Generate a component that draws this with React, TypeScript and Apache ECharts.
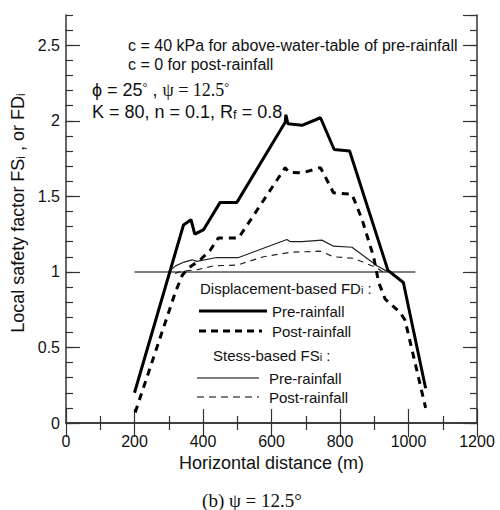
import React, { useEffect, useRef } from "react";
import * as echarts from "echarts";

// Horizontal distance (m) vs local safety factor
const preFD: [number, number][] = [
  [200, 0.2], [343, 1.31], [365, 1.345], [376, 1.25], [402, 1.28], [450, 1.46], [499, 1.46],
  [640, 1.99], [642, 2.04], [648, 1.98], [689, 1.97], [743, 2.02], [783, 1.81], [828, 1.8],
  [940, 1.01], [985, 0.93], [1050, 0.23],
];
const postFD: [number, number][] = [
  [202, 0.07], [320, 0.87], [340, 0.98], [360, 1.03], [392, 1.08], [420, 1.14], [445, 1.225],
  [504, 1.225], [640, 1.69], [650, 1.66], [690, 1.655], [743, 1.69], [781, 1.524], [835, 1.513],
  [864, 1.35], [898, 1.1], [913, 0.93], [932, 0.82], [976, 0.73], [990, 0.68], [1050, 0.1],
];
const preFS: [number, number][] = [
  [300, 1.0], [320, 1.04], [345, 1.065], [368, 1.08], [382, 1.07], [440, 1.095], [504, 1.095],
  [645, 1.214], [655, 1.2], [689, 1.2], [747, 1.21], [781, 1.17], [835, 1.163], [908, 1.04], [940, 1.0],
];
const postFS: [number, number][] = [
  [318, 0.99], [340, 1.005], [385, 1.015], [431, 1.04], [500, 1.045], [577, 1.1], [655, 1.13],
  [743, 1.137], [781, 1.1], [840, 1.09], [908, 1.026], [925, 1.0],
];
const refLine: [number, number][] = [[200, 1], [1020, 1]];

const xRange = [0, 1200];
const yRange = [0, 2.7];

const SANS = "'Liberation Sans', Arial, sans-serif";
const SERIF = "'Liberation Serif', 'Times New Roman', serif";
const AX = "#333";
const TXT = "#111";

export default function App() {
  const ref = useRef<HTMLDivElement>(null);
  useEffect(() => {
    const chart = echarts.init(ref.current!, null, { renderer: "svg" });
    const grid = { left: 66, top: 15, width: 411, height: 408 };
    const axLine = { show: true, lineStyle: { color: AX, width: 1.5 } };
    const tickStyle = { color: AX, width: 1.2 };
    const xBase = (position: string, labels: boolean) => ({
      type: "value",
      position,
      min: xRange[0],
      max: xRange[1],
      interval: 200,
      axisLine: axLine,
      axisTick: { show: true, inside: true, length: 14, lineStyle: tickStyle },
      minorTick: { show: true, splitNumber: 2, length: 7, lineStyle: tickStyle },
      axisLabel: labels
        ? { show: true, fontSize: 16, fontFamily: SANS, color: TXT, margin: 10, formatter: (v: number) => String(v) }
        : { show: false },
      splitLine: { show: false },
      minorSplitLine: { show: false },
    });
    const yBase = (position: string, interval: number, len: number, labels: boolean, line: boolean) => ({
      type: "value",
      position,
      min: yRange[0],
      max: yRange[1],
      interval,
      axisLine: line ? axLine : { show: false },
      axisTick: { show: true, inside: true, length: len, lineStyle: tickStyle },
      axisLabel: labels
        ? { show: true, fontSize: 16, fontFamily: SANS, color: TXT, margin: 6, showMaxLabel: false }
        : { show: false },
      splitLine: { show: false },
    });
    const lineSeries = (data: [number, number][], width: number, type: any, color: string, z = 3) => ({
      type: "line",
      data,
      xAxisIndex: 0,
      yAxisIndex: 0,
      symbol: "none",
      showSymbol: false,
      silent: true,
      z,
      lineStyle: { color, width, type },
    });
    const t = (x: number, y: number, text: string, fontSize: number, extra: any = {}) => ({
      type: "text",
      x,
      y,
      silent: true,
      style: {
        text,
        fontSize,
        fontFamily: SANS,
        fill: TXT,
        textAlign: "left",
        textVerticalAlign: "middle",
        ...extra,
      },
    });
    const sub = (fs: number) => ({ fontSize: fs, lineHeight: 10, verticalAlign: "bottom", fontFamily: SANS, fill: TXT });
    const l = (x1: number, x2: number, y: number, w: number, dash?: number[]) => ({
      type: "line",
      silent: true,
      shape: { x1, y1: y, x2, y2: y },
      style: { stroke: "#000", lineWidth: w, lineDash: dash },
    });

    chart.setOption({
      animation: false,
      backgroundColor: "#fff",
      grid,
      xAxis: [xBase("bottom", true), xBase("top", false)],
      yAxis: [
        yBase("left", 0.5, 14, true, true),
        yBase("left", 0.1, 7, false, false),
        yBase("right", 0.5, 14, false, true),
        yBase("right", 0.1, 7, false, false),
      ],
      series: [
        lineSeries(refLine, 1.5, "solid", "#555", 2),
        lineSeries(postFS, 1.2, [6, 5], "#222"),
        lineSeries(preFS, 1.2, "solid", "#222"),
        lineSeries(postFD, 3, [7, 6], "#000", 4),
        lineSeries(preFD, 3, "solid", "#000", 4),
      ],
      graphic: [
        t(128, 45, "c = 40 kPa for above-water-table of pre-rainfall", 16),
        t(128, 64, "c = 0 for post-rainfall", 16),
        t(92, 90, "ϕ = 25{sup|°} , {serif|ψ = 12.5}{sup|°}", 18, {
          rich: {
            sup: { fontSize: 12, lineHeight: 10, verticalAlign: "top", fontFamily: SERIF, fill: TXT },
            serif: { fontSize: 18, fontFamily: SERIF, fill: TXT },
          },
        }),
        t(92, 112, "K = 80, n = 0.1, R{s|f} = 0.8", 18, { rich: { s: sub(13) } }),
        t(200, 288, "Displacement-based FD{s|i} :", 15, { rich: { s: sub(11) } }),
        l(199, 267, 311, 3),
        t(272, 311, "Pre-rainfall", 15),
        l(199, 262, 331, 3, [7, 5]),
        t(272, 331, "Post-rainfall", 15),
        t(213, 355, "Stess-based FS{s|i} :", 15, { rich: { s: sub(11) } }),
        l(197, 259, 378, 1.2),
        t(269, 378, "Pre-rainfall", 15),
        l(197, 259, 397, 1.2, [7, 5]),
        t(269, 397, "Post-rainfall", 15),
        {
          type: "text",
          x: 18,
          y: 213,
          rotation: Math.PI / 2,
          silent: true,
          style: {
            text: "Local safety factor FS{s|i} , or FD{s|i}",
            fontSize: 18,
            fontFamily: SANS,
            fill: TXT,
            textAlign: "center",
            textVerticalAlign: "middle",
            rich: { s: sub(12) },
          },
        },
        t(271.5, 463, "Horizontal distance (m)", 18, { textAlign: "center" }),
        t(252, 500, "(b) ψ = 12.5°", 19, { textAlign: "center", fontFamily: SERIF }),
      ],
    });
    return () => chart.dispose();
  }, []);
  return (
    <div
      ref={ref}
      style={{ position: "fixed", left: 0, top: 0, width: 500, height: 510, background: "#fff" }}
    />
  );
}
